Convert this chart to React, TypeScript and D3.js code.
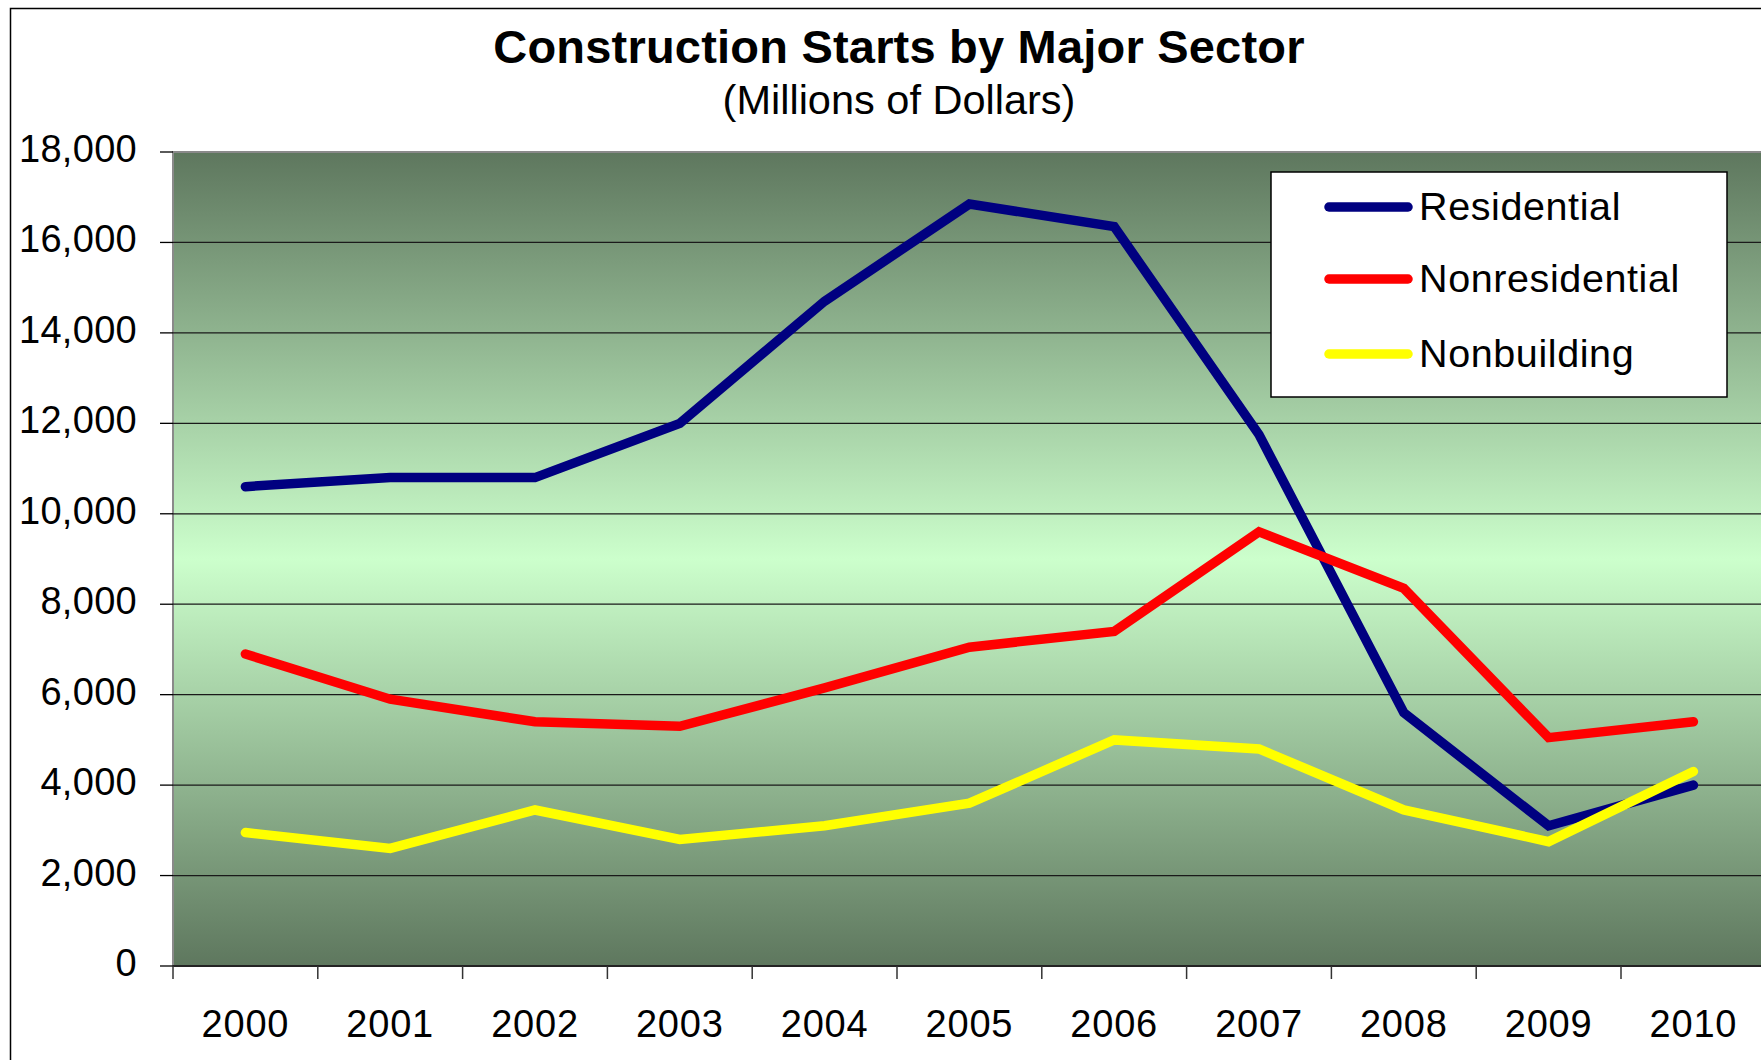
import React from 'react';
import * as d3 from 'd3';

const years = ['2000', '2001', '2002', '2003', '2004', '2005', '2006', '2007', '2008', '2009', '2010'];

const residential = [10600, 10800, 10800, 12000, 14700, 16850, 16350, 11750, 5600, 3100, 4000];
const nonresidential = [6900, 5900, 5400, 5300, 6150, 7050, 7400, 9600, 8350, 5050, 5400];
const nonbuilding = [2950, 2600, 3450, 2800, 3100, 3600, 5000, 4800, 3450, 2750, 4300];

const seriesNames = ['Residential', 'Nonresidential', 'Nonbuilding'];
const seriesColors = ['#000080', '#FF0000', '#FFFF00'];

const yTicks = [0, 2000, 4000, 6000, 8000, 10000, 12000, 14000, 16000, 18000];

const font = '"Liberation Sans", Arial, sans-serif';

export default function App() {
    const width = 1761;
    const height = 1060;
    const plot = { left: 173, top: 152, right: 173 + 11 * 144.8, bottom: 966 };

    const x = d3
        .scaleBand()
        .domain(years)
        .range([plot.left, plot.right]);

    const y = d3
        .scaleLinear()
        .domain([0, 18000])
        .range([plot.bottom, plot.top]);

    const line = d3
        .line<number>()
        .x((d, i) => (x(years[i]) as number) + x.bandwidth() / 2)
        .y(d => y(d));

    const series = [residential, nonresidential, nonbuilding];
    const fmt = d3.format(',');

    // legend box
    const lg = { x: 1271, y: 172, w: 456, h: 225 };
    const legendRows = [207, 279, 354];

    return (
        <svg
            width={width}
            height={height}
            style={{ position: 'absolute', left: 0, top: 0, display: 'block', background: '#fff' }}
            fontFamily={font}
        >
            <defs>
                <linearGradient id="plotBg" x1="0" y1="0" x2="0" y2="1">
                    <stop offset="0%" stopColor="#5E775E" />
                    <stop offset="50%" stopColor="#CCFFCC" />
                    <stop offset="100%" stopColor="#5E775E" />
                </linearGradient>
            </defs>

            {/* chart border */}
            <rect x={10.5} y={8.5} width={width + 20} height={height + 20} fill="#fff" stroke="#000" strokeWidth={1.5} />

            <text x={899} y={63} textAnchor="middle" fontSize={47} fontWeight="bold" letterSpacing={0.2}>
                Construction Starts by Major Sector
            </text>
            <text x={899} y={114} textAnchor="middle" fontSize={41.5}>
                (Millions of Dollars)
            </text>

            {/* plot area */}
            <rect
                x={plot.left}
                y={plot.top}
                width={plot.right - plot.left}
                height={plot.bottom - plot.top}
                fill="url(#plotBg)"
                stroke="#8a8a8a"
                strokeWidth={2}
            />

            {yTicks.map(t => (
                <g key={t}>
                    {t > 0 && t < 18000 && (
                        <line x1={plot.left} x2={plot.right} y1={y(t)} y2={y(t)} stroke="#1a1a1a" strokeWidth={1.3} />
                    )}
                    <line x1={plot.left - 13} x2={plot.left} y1={y(t)} y2={y(t)} stroke="#000" strokeWidth={1.3} />
                    <text x={137} y={y(t) + 10} textAnchor="end" fontSize={38} letterSpacing={0.3}>
                        {fmt(t)}
                    </text>
                </g>
            ))}

            {/* x axis */}
            <line x1={plot.left} x2={plot.right} y1={plot.bottom} y2={plot.bottom} stroke="#000" strokeWidth={1.5} />
            {years.map(yr => (
                <line
                    key={'t' + yr}
                    x1={(x(yr) as number)}
                    x2={(x(yr) as number)}
                    y1={plot.bottom}
                    y2={plot.bottom + 13}
                    stroke="#333"
                    strokeWidth={1.5}
                />
            ))}
            {years.map(yr => (
                <text
                    key={'l' + yr}
                    x={(x(yr) as number) + x.bandwidth() / 2}
                    y={1037}
                    textAnchor="middle"
                    fontSize={38}
                    letterSpacing={0.8}
                >
                    {yr}
                </text>
            ))}

            {series.map((s, i) => (
                <path
                    key={seriesNames[i]}
                    d={line(s) as string}
                    fill="none"
                    stroke={seriesColors[i]}
                    strokeWidth={9.5}
                    strokeLinecap="round"
                    strokeLinejoin="miter"
                />
            ))}

            {/* legend */}
            <rect x={lg.x} y={lg.y} width={lg.w} height={lg.h} fill="#fff" stroke="#000" strokeWidth={1.5} />
            {seriesNames.map((name, i) => (
                <g key={'lg' + name}>
                    <line
                        x1={1329}
                        x2={1408}
                        y1={legendRows[i]}
                        y2={legendRows[i]}
                        stroke={seriesColors[i]}
                        strokeWidth={9.5}
                        strokeLinecap="round"
                    />
                    <text x={1419} y={legendRows[i] + 13} fontSize={39.5} letterSpacing={0.6}>
                        {name}
                    </text>
                </g>
            ))}
        </svg>
    );
}
